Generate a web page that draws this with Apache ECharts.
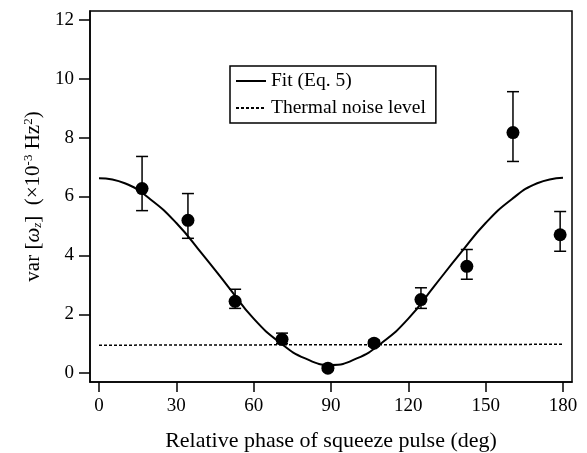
<!DOCTYPE html>
<html>
<head>
<meta charset="utf-8">
<script src="https://cdn.jsdelivr.net/npm/echarts@6/dist/echarts.min.js"></script>
<style>
  html, body { margin: 0; padding: 0; background: #fff; }
  #chart { width: 587px; height: 453px; }
</style>
</head>
<body>
<div id="chart"></div>
<script>
  // measured points: phase (deg), var, error bar low/high
  var phase = [16.7, 34.5, 52.8, 71, 88.8, 106.7, 124.9, 142.7, 160.6, 178.9]
  var variance = [6.27, 5.19, 2.44, 1.15, 0.17, 1.02, 2.5, 3.63, 8.17, 4.7]
  var errLow = [5.52, 4.58, 2.2, 1.0, 0.1, 0.92, 2.2, 3.19, 7.19, 4.14]
  var errHigh = [7.36, 6.1, 2.85, 1.36, 0.25, 1.12, 2.9, 4.2, 9.56, 5.49]

  // fit curve
  var fitPhase = [0, 10, 20, 30, 40, 50, 60, 70, 80, 90, 100, 110, 120, 130, 140, 150, 160, 170, 180]
  var fitValue = [6.62, 6.45, 5.9, 5.1, 4.05, 2.95, 1.85, 1.05, 0.5, 0.28, 0.5, 1.05, 1.85, 2.95, 4.05, 5.1, 5.9, 6.45, 6.64]

  // thermal noise level
  var noisePhase = [0, 180]
  var noiseValue = [0.95, 0.98]

  var xTicks = [0, 30, 60, 90, 120, 150, 180]
  var yTicks = [0, 2, 4, 6, 8, 10, 12]

  var font = 'Liberation Serif'
  var chart = echarts.init(document.getElementById('chart'))

  function pairs (xs, ys) {
    return xs.map(function (x, i) { return [x, ys[i]] })
  }

  chart.setOption({
    animation: false,
    textStyle: { fontFamily: font, color: '#000' },
    grid: {
      left: 90, right: 15, top: 11, bottom: 71,
      outerBoundsMode: 'none',
      show: true, borderColor: '#000', borderWidth: 1.5
    },
    legend: {
      orient: 'vertical',
      left: 230, top: 66,
      padding: [5, 10, 5, 5],
      itemGap: 7,
      itemWidth: 30,
      itemHeight: 14,
      borderColor: '#000',
      borderWidth: 1.5,
      itemStyle: { opacity: 0 },
      textStyle: { fontFamily: font, fontSize: 19.5, color: '#000' },
      data: ['Fit (Eq. 5)', 'Thermal noise level']
    },
    xAxis: {
      type: 'value',
      min: -3.5, max: 183.5,
      name: 'Relative phase of squeeze pulse (deg)',
      nameLocation: 'middle',
      nameGap: 48,
      nameTextStyle: { fontFamily: font, fontSize: 22, color: '#000' },
      axisLine: { onZero: false, lineStyle: { color: '#000', width: 1.5 } },
      axisTick: { customValues: xTicks, length: 10, lineStyle: { color: '#000', width: 1.5 } },
      axisLabel: { customValues: xTicks, margin: 15, fontFamily: font, fontSize: 19, color: '#000' },
      splitLine: { show: false }
    },
    yAxis: {
      type: 'value',
      min: -0.3, max: 12.3,
      name: 'var [{w|ω}{sub|z}]  (×10{sup|-3} Hz{sup|2})',
      nameLocation: 'middle',
      nameRotate: 90,
      nameGap: 46,
      nameTextStyle: {
        fontFamily: font, fontSize: 21, color: '#000',
        rich: {
          w: { fontFamily: font, fontSize: 21, fontStyle: 'italic' },
          sub: { fontFamily: font, fontSize: 13, fontStyle: 'italic', verticalAlign: 'bottom', padding: [9, 0, 0, 0] },
          sup: { fontFamily: font, fontSize: 13, verticalAlign: 'top', padding: [0, 0, 9, 0] }
        }
      },
      axisLine: { show: true, onZero: false, lineStyle: { color: '#000', width: 1.5 } },
      axisTick: { show: true, customValues: yTicks, length: 11, lineStyle: { color: '#000', width: 1.5 } },
      axisLabel: { customValues: yTicks, margin: 16, fontFamily: font, fontSize: 19, color: '#000' },
      splitLine: { show: false }
    },
    series: [{
      name: 'Fit (Eq. 5)',
      type: 'line',
      smooth: true,
      symbol: 'none',
      data: pairs(fitPhase, fitValue),
      lineStyle: { color: '#000', width: 2 },
      itemStyle: { color: '#000' },
      z: 2
    }, {
      name: 'Thermal noise level',
      type: 'line',
      symbol: 'none',
      data: pairs(noisePhase, noiseValue),
      lineStyle: { color: '#000', width: 1.5, type: [3, 2] },
      itemStyle: { color: '#000' },
      z: 2
    }, {
      name: 'error',
      type: 'custom',
      data: phase.map(function (x, i) { return [x, errLow[i], errHigh[i]] }),
      renderItem: function (params, api) {
        var x = api.value(0)
        var top = api.coord([x, api.value(2)])
        var bot = api.coord([x, api.value(1)])
        var w = 6
        var style = { stroke: '#000', lineWidth: 1.5 }
        return {
          type: 'group',
          children: [
            { type: 'line', shape: { x1: top[0], y1: top[1], x2: bot[0], y2: bot[1] }, style: style },
            { type: 'line', shape: { x1: top[0] - w, y1: top[1], x2: top[0] + w, y2: top[1] }, style: style },
            { type: 'line', shape: { x1: bot[0] - w, y1: bot[1], x2: bot[0] + w, y2: bot[1] }, style: style }
          ]
        }
      },
      z: 3
    }, {
      name: 'data',
      type: 'scatter',
      symbol: 'circle',
      symbolSize: 13,
      data: pairs(phase, variance),
      itemStyle: { color: '#000', opacity: 1 },
      z: 4
    }]
  })
</script>
</body>
</html>
